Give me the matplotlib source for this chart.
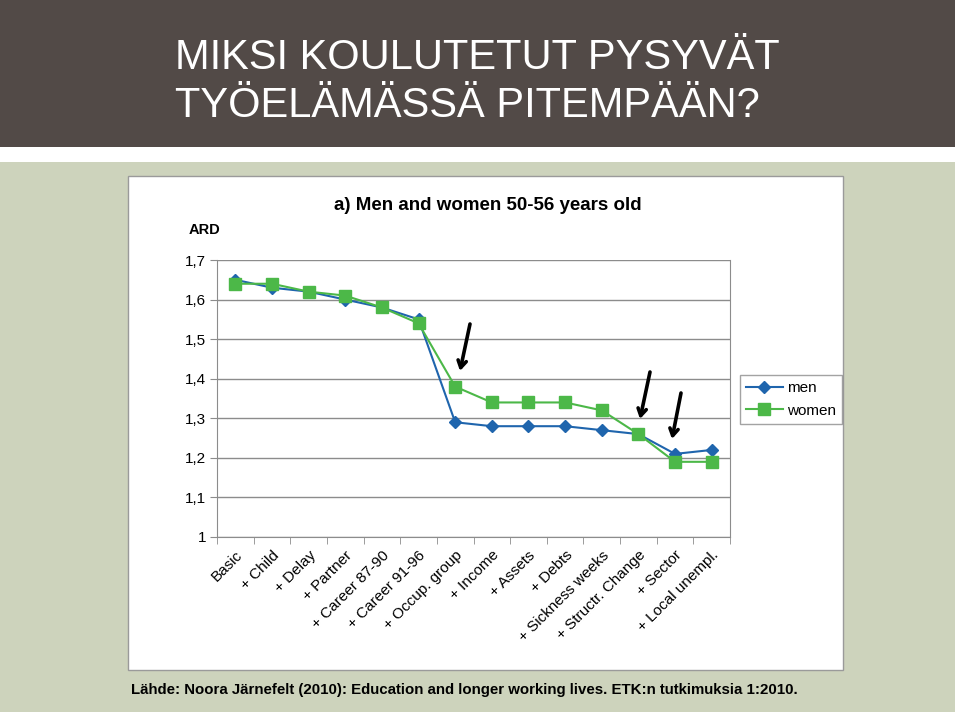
import matplotlib
matplotlib.use("Agg")
import matplotlib.pyplot as plt
from matplotlib.patches import Rectangle, FancyArrowPatch

categories = ["Basic", "+ Child", "+ Delay", "+ Partner", "+ Career 87-90", "+ Career 91-96",
              "+ Occup. group", "+ Income", "+ Assets", "+ Debts", "+ Sickness weeks",
              "+ Structr. Change", "+ Sector", "+ Local unempl."]
men = [1.65, 1.63, 1.62, 1.60, 1.58, 1.55, 1.29, 1.28, 1.28, 1.28, 1.27, 1.26, 1.21, 1.22]
women = [1.64, 1.64, 1.62, 1.61, 1.58, 1.54, 1.38, 1.34, 1.34, 1.34, 1.32, 1.26, 1.19, 1.19]
yticks = [1.0, 1.1, 1.2, 1.3, 1.4, 1.5, 1.6, 1.7]
ytick_labels = ["1", "1,1", "1,2", "1,3", "1,4", "1,5", "1,6", "1,7"]

plt.rcParams['font.family'] = ['Liberation Sans', 'DejaVu Sans']

W, H = 960, 712
fig = plt.figure(figsize=(W / 100, H / 100), dpi=100)
fig.patch.set_facecolor("white")

def fx(px):
    return px / W

def fy(py):
    return 1 - py / H

# header band
fig.patches.append(Rectangle((0, fy(147)), fx(955), fy(0) - fy(147), transform=fig.transFigure,
                             facecolor="#524a47", edgecolor="none", zorder=0))
# green background band
fig.patches.append(Rectangle((0, 0), fx(955), fy(162), transform=fig.transFigure,
                             facecolor="#cdd3bc", edgecolor="none", zorder=0))
# white chart panel
fig.patches.append(Rectangle((fx(128), fy(670)), fx(843 - 128), fy(176) - fy(670), transform=fig.transFigure,
                             facecolor="white", edgecolor="#9a9a9a", linewidth=1.0, zorder=1))

fig.text(fx(175), fy(58), "MIKSI KOULUTETUT PYSYVÄT", color="white", fontsize=30,
         va="center", ha="left")
fig.text(fx(175), fy(106), "TYÖELÄMÄSSÄ PITEMPÄÄN?", color="white", fontsize=30,
         va="center", ha="left")

ax = fig.add_axes([fx(217), fy(537), fx(730 - 217), fy(260) - fy(537)])
ax.set_zorder(2)
ax.patch.set_alpha(0)

x = list(range(len(categories)))
ax.plot(x, men, color="#1f65ad", marker="D", markersize=6, linewidth=1.5, label="men", zorder=3)
ax.plot(x, women, color="#4cb848", marker="s", markersize=8, linewidth=1.5, label="women", zorder=3)

ax.set_xlim(-0.5, len(categories) - 0.5)
ax.set_ylim(1.0, 1.7)
ax.set_yticks(yticks)
ax.set_yticklabels(ytick_labels, fontsize=11)
ax.yaxis.grid(True, color="#8c8c8c", linewidth=1.0)
ax.set_axisbelow(True)
for s in ["left", "bottom", "right"]:
    ax.spines[s].set_color("#8c8c8c")
ax.spines["top"].set_visible(False)
ax.tick_params(axis="y", length=5, color="#8c8c8c", pad=3)

ax.set_xticks(x)
ax.set_xticklabels(categories, rotation=45, ha="right", rotation_mode="anchor", fontsize=11)
ax.tick_params(axis="x", length=0, pad=8)
ax.set_xticks([i - 0.5 for i in range(len(categories) + 1)], minor=True)
ax.tick_params(axis="x", which="minor", length=5, color="#8c8c8c")

fig.text(fx(488), fy(206), "a) Men and women 50-56 years old", fontsize=13.5, fontweight="bold",
         ha="center", va="center")
fig.text(fx(205), fy(230), "ARD", fontsize=10.5, fontweight="bold", ha="center", va="center")

leg = ax.legend(loc="upper left", bbox_to_anchor=(fx(740), fy(375)), bbox_transform=fig.transFigure,
                borderaxespad=0, frameon=True, fancybox=False, edgecolor="#8c8c8c", fontsize=11,
                handlelength=2.4, handletextpad=0.3, borderpad=0.4, labelspacing=0.55)
leg.get_frame().set_linewidth(1.0)

arrows = [((470, 324), (460, 371)), ((650, 372), (640, 419)), ((681, 393), (672, 439))]
for (sx, sy), (ex, ey) in arrows:
    fig.add_artist(FancyArrowPatch((fx(sx), fy(sy)), (fx(ex), fy(ey)),
                   transform=fig.transFigure, arrowstyle="->,head_length=5,head_width=3",
                   color="black", linewidth=2.6, shrinkA=0, shrinkB=0, zorder=5))

fig.text(fx(131), fy(690), "Lähde: Noora Järnefelt (2010): Education and longer working lives. ETK:n tutkimuksia 1:2010.",
         fontsize=10.8, fontweight="bold", ha="left", va="center")

fig.savefig("out.png", dpi=100)
